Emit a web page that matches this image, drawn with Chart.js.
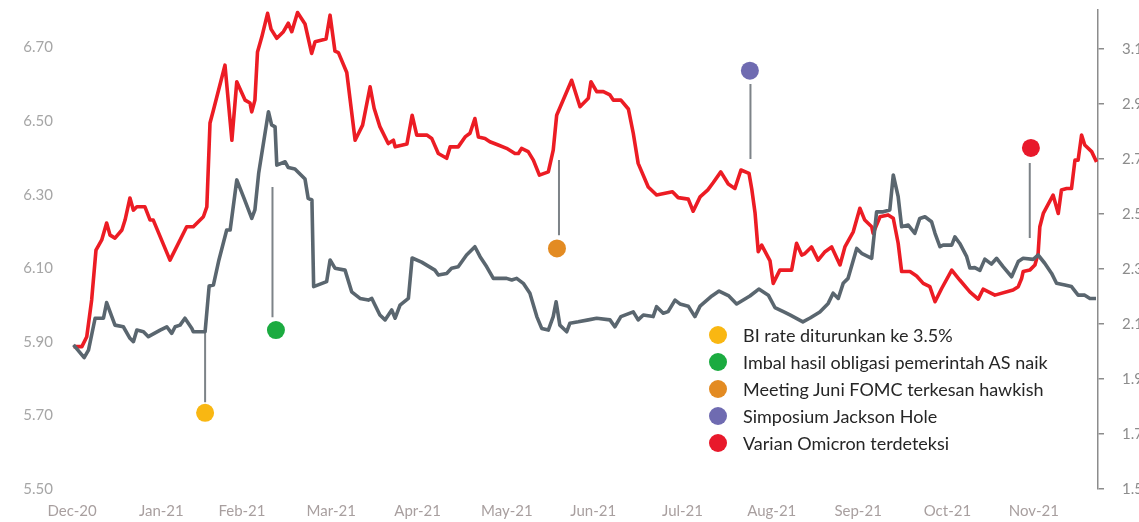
<!DOCTYPE html>
<html>
<head>
<meta charset="utf-8">
<title>Yield chart</title>
<script src="https://cdn.jsdelivr.net/npm/chart.js@4.4.1/dist/chart.umd.min.js"></script>
<style>
    html, body { margin: 0; padding: 0; background: #fff; overflow: hidden; }
    #wrap { position: relative; width: 1139px; height: 522px; }
    #legend {
        position: absolute; left: 709px; top: 321px;
        font-family: Lato, sans-serif; font-size: 18px; color: #262626;
    }
    #legend .row { height: 27px; display: flex; align-items: center; white-space: nowrap; }
    #legend .dot { width: 18px; height: 18px; border-radius: 50%; margin-right: 16px; flex: none; }
</style>
</head>
<body>
<div id="wrap">
    <canvas id="chart"></canvas>
    <div id="legend"></div>
</div>
<script>
// x values are days counted from the first point, month labels sit at month ends
const monthDays = [0, 31, 59, 90, 120, 151, 181, 212, 243, 273, 304, 334];
const monthLabels = ['Dec-20', 'Jan-21', 'Feb-21', 'Mar-21', 'Apr-21', 'May-21',
    'Jun-21', 'Jul-21', 'Aug-21', 'Sep-21', 'Oct-21', 'Nov-21'];
const leftTicks = [5.5, 5.7, 5.9, 6.1, 6.3, 6.5, 6.7];
const rightTicks = [1.5, 1.7, 1.9, 2.1, 2.3, 2.5, 2.7, 2.9, 3.1];

// red series (left axis)
const redDays = [0.5, 3.4, 5.1, 6.8, 8.3, 10.3, 12.0, 13.2, 14.9, 17.3,
    18.4, 20.1, 21.3, 22.5, 25.3, 27.1, 28.2, 34.0, 39.8, 42.1,
    45.6, 46.8, 47.9, 49.1, 53.1, 55.5, 57.2, 60.1, 61.8, 62.4,
    63.5, 64.4, 65.9, 67.9, 69.1, 71.1, 73.4, 75.1, 76.3, 78.3,
    80.9, 83.2, 84.4, 88.2, 89.6, 91.3, 92.5, 95.4, 98.3, 100.9,
    103.5, 104.9, 106.9, 109.8, 111.6, 112.2, 116.3, 118.1, 119.7, 123.2,
    124.9, 127.2, 130.1, 131.3, 134.1, 136.5, 138.2, 139.9, 141.1, 143.4,
    145.1, 148.0, 150.9, 153.8, 155.0, 156.1, 158.4, 160.2, 162.3, 165.4,
    167.1, 168.3, 173.5, 176.4, 179.3, 180.2, 182.2, 184.5, 186.8, 188.0,
    190.6, 193.2, 194.9, 196.6, 200.1, 203.0, 208.5, 210.5, 214.0, 215.7,
    218.1, 220.8, 222.7, 225.3, 227.9, 230.2, 232.3, 235.1, 236.1, 237.2,
    238.3, 239.5, 242.4, 243.5, 245.8, 249.9, 251.6, 253.4, 254.5, 256.8,
    259.1, 261.5, 263.8, 266.7, 268.4, 271.3, 273.6, 275.3, 277.7, 278.2,
    280.6, 283.4, 285.2, 286.9, 288.1, 291.0, 293.3, 295.6, 297.9, 299.7,
    302.0, 305.5, 308.3, 311.8, 314.7, 316.4, 320.5, 326.8, 328.6, 329.8,
    330.3, 332.6, 334.4, 335.5, 336.1, 337.3, 340.7, 342.5, 343.6, 345.4,
    347.1, 348.3, 349.4, 350.6, 351.7, 354.1, 355.8];
const redValues = [5.887, 5.887, 5.914, 6.014, 6.149, 6.177, 6.223, 6.190, 6.182, 6.204,
    6.231, 6.291, 6.258, 6.267, 6.267, 6.231, 6.231, 6.122, 6.213, 6.213,
    6.240, 6.267, 6.495, 6.530, 6.652, 6.448, 6.607, 6.557, 6.549, 6.525,
    6.557, 6.688, 6.729, 6.793, 6.750, 6.725, 6.743, 6.766, 6.743, 6.795,
    6.764, 6.684, 6.716, 6.723, 6.788, 6.690, 6.686, 6.632, 6.448, 6.489,
    6.593, 6.535, 6.485, 6.439, 6.448, 6.430, 6.438, 6.516, 6.462, 6.462,
    6.453, 6.412, 6.399, 6.430, 6.430, 6.457, 6.467, 6.507, 6.457, 6.453,
    6.444, 6.435, 6.426, 6.412, 6.412, 6.426, 6.417, 6.394, 6.353, 6.362,
    6.421, 6.516, 6.611, 6.539, 6.562, 6.607, 6.580, 6.580, 6.571, 6.557,
    6.557, 6.533, 6.467, 6.385, 6.321, 6.299, 6.308, 6.292, 6.288, 6.255,
    6.294, 6.313, 6.333, 6.362, 6.329, 6.317, 6.367, 6.358, 6.313, 6.250,
    6.145, 6.163, 6.120, 6.059, 6.095, 6.095, 6.168, 6.136, 6.140, 6.158,
    6.122, 6.145, 6.158, 6.109, 6.158, 6.199, 6.263, 6.231, 6.213, 6.195,
    6.240, 6.245, 6.236, 6.168, 6.091, 6.091, 6.079, 6.059, 6.050, 6.009,
    6.045, 6.095, 6.068, 6.036, 6.016, 6.043, 6.027, 6.041, 6.050, 6.073,
    6.091, 6.095, 6.109, 6.140, 6.213, 6.249, 6.299, 6.249, 6.313, 6.317,
    6.317, 6.394, 6.394, 6.462, 6.435, 6.417, 6.389];

// grey series (right axis)
const greyDays = [0.5, 4.2, 5.7, 8.0, 10.9, 12.0, 13.8, 14.9, 17.8, 20.1,
    21.3, 22.5, 24.8, 26.5, 30.6, 32.9, 34.6, 35.8, 37.5, 39.2,
    41.6, 42.1, 46.2, 47.6, 49.1, 51.0, 53.7, 54.9, 57.2, 59.7,
    62.4, 63.5, 64.8, 68.2, 69.3, 70.5, 71.1, 74.0, 75.1, 77.4,
    80.9, 82.0, 83.3, 83.9, 88.4, 89.6, 91.3, 94.8, 97.1, 100.0,
    102.9, 104.1, 105.2, 106.9, 108.7, 111.0, 112.2, 113.9, 116.8, 118.1,
    121.4, 126.0, 127.2, 130.1, 131.8, 134.1, 137.0, 139.9, 141.7, 144.0,
    146.3, 150.9, 152.7, 154.4, 156.7, 159.0, 161.4, 163.1, 165.4, 167.1,
    168.1, 169.4, 171.8, 172.9, 175.8, 179.3, 182.2, 186.8, 188.5, 190.6,
    194.9, 196.6, 198.4, 201.8, 203.0, 205.3, 207.0, 209.4, 211.1, 214.0,
    216.3, 218.1, 222.2, 224.7, 228.1, 230.8, 235.4, 238.5, 241.8, 244.1,
    247.2, 249.3, 253.8, 256.3, 259.7, 262.6, 264.3, 266.1, 267.8, 269.5,
    272.5, 274.2, 277.7, 279.4, 281.7, 284.0, 285.2, 286.9, 288.1, 290.4,
    292.7, 294.4, 296.2, 298.5, 299.7, 301.4, 302.5, 305.5, 306.6, 308.3,
    310.7, 311.8, 313.5, 315.3, 317.0, 319.3, 321.1, 323.4, 326.3, 328.6,
    330.3, 333.8, 335.5, 337.8, 340.2, 341.9, 344.8, 347.1, 349.4, 351.7,
    353.5, 355.6];
const greyValues = [2.024, 1.978, 2.005, 2.121, 2.121, 2.178, 2.127, 2.096, 2.090, 2.048,
    2.036, 2.078, 2.072, 2.054, 2.078, 2.090, 2.066, 2.090, 2.096, 2.121,
    2.084, 2.072, 2.072, 2.238, 2.242, 2.333, 2.442, 2.442, 2.624, 2.558,
    2.484, 2.515, 2.648, 2.872, 2.824, 2.817, 2.678, 2.690, 2.669, 2.664,
    2.627, 2.557, 2.551, 2.236, 2.254, 2.333, 2.303, 2.296, 2.217, 2.193,
    2.187, 2.193, 2.169, 2.133, 2.115, 2.151, 2.121, 2.169, 2.193, 2.340,
    2.325, 2.296, 2.278, 2.284, 2.303, 2.308, 2.351, 2.381, 2.345, 2.308,
    2.266, 2.266, 2.260, 2.266, 2.248, 2.212, 2.127, 2.084, 2.078, 2.127,
    2.181, 2.096, 2.072, 2.103, 2.108, 2.115, 2.121, 2.115, 2.090, 2.127,
    2.144, 2.115, 2.133, 2.127, 2.163, 2.139, 2.145, 2.187, 2.173, 2.165,
    2.127, 2.165, 2.202, 2.220, 2.202, 2.173, 2.202, 2.227, 2.205, 2.160,
    2.144, 2.133, 2.108, 2.122, 2.144, 2.175, 2.212, 2.193, 2.248, 2.266,
    2.375, 2.357, 2.339, 2.508, 2.508, 2.515, 2.642, 2.563, 2.454, 2.460,
    2.430, 2.484, 2.490, 2.472, 2.430, 2.381, 2.387, 2.387, 2.417, 2.393,
    2.345, 2.304, 2.305, 2.295, 2.336, 2.318, 2.339, 2.308, 2.272, 2.327,
    2.339, 2.335, 2.351, 2.321, 2.284, 2.248, 2.242, 2.236, 2.205, 2.205,
    2.193, 2.193];

// event markers, placed on the left axis
const eventNames = ['BI rate diturunkan ke 3.5%', 'Imbal hasil obligasi pemerintah AS naik',
    'Meeting Juni FOMC terkesan hawkish', 'Simposium Jackson Hole', 'Varian Omicron terdeteksi'];
const eventDotDays = [46.2, 70.8, 168.4, 235.4, 333.0];
const eventDotValues = [5.707, 5.932, 6.154, 6.637, 6.427];
const eventStemDays = [46.2, 69.6, 169.1, 235.6, 332.6];
const eventStemTop = [5.927, 6.321, 6.394, 6.601, 6.386];
const eventStemBottom = [5.736, 5.967, 6.190, 6.397, 6.182];

const colors = {
    red: '#ec1c24',
    grey: '#5a666f',
    stem: '#7d8388',
    axis: '#8c8c8c',
    leftText: '#a6a6a6',
    bottomText: '#a89f9f',
    events: ['#f9b712', '#1bab40', '#e38b22', '#6f6bb1', '#e8192b']
};

const toPoints = (xs, ys) => xs.map((x, i) => ({ x: x, y: ys[i] }));

// fixed box sizes so the plot area sits where the original one does
function fitY(width) {
    return (s) => {
        s.width = width;
        s.paddingTop = 10;
        s.paddingBottom = 0;
    };
}

document.addEventListener('DOMContentLoaded', () => {
    Chart.defaults.font.family = 'Lato, sans-serif';
    Chart.defaults.font.size = 15;

    const datasets = [
        {
            data: toPoints(greyDays, greyValues),
            yAxisID: 'yRight',
            borderColor: colors.grey,
            borderWidth: 3.6,
            pointRadius: 0,
            borderJoinStyle: 'round',
            tension: 0
        },
        {
            data: toPoints(redDays, redValues),
            yAxisID: 'y',
            borderColor: colors.red,
            borderWidth: 3.6,
            pointRadius: 0,
            borderJoinStyle: 'round',
            tension: 0
        }
    ];

    eventNames.forEach((name, i) => {
        datasets.push({
            data: [{ x: eventStemDays[i], y: eventStemTop[i] },
                   { x: eventStemDays[i], y: eventStemBottom[i] }],
            yAxisID: 'y',
            borderColor: colors.stem,
            borderWidth: 2,
            pointRadius: 0
        });
        datasets.push({
            type: 'scatter',
            label: name,
            data: [{ x: eventDotDays[i], y: eventDotValues[i] }],
            yAxisID: 'y',
            pointRadius: 9,
            pointBackgroundColor: colors.events[i],
            pointBorderWidth: 0
        });
    });

    new Chart(document.getElementById('chart'), {
        type: 'line',
        data: { datasets: datasets },
        options: {
            responsive: true,
            maintainAspectRatio: false,
            animation: false,
            events: [],
            layout: { padding: 0 },
            plugins: {
                legend: { display: false },
                tooltip: { enabled: false }
            },
            scales: {
                x: {
                    type: 'linear',
                    min: -3.5,
                    max: 356.3,
                    grid: { display: false, drawTicks: false },
                    border: { display: false },
                    afterBuildTicks: (s) => { s.ticks = monthDays.map(v => ({ value: v })); },
                    afterFit: (s) => { s.height = 33; },
                    ticks: {
                        autoSkip: false,
                        maxRotation: 0,
                        padding: 13,
                        color: colors.bottomText,
                        callback: (v, i) => monthLabels[i]
                    }
                },
                y: {
                    position: 'left',
                    min: 5.5,
                    max: 6.802,
                    grid: { display: false, drawTicks: false },
                    border: { display: false },
                    afterBuildTicks: (s) => { s.ticks = leftTicks.map(v => ({ value: v })); },
                    afterFit: fitY(62),
                    ticks: {
                        padding: 9,
                        color: colors.leftText,
                        callback: (v) => v.toFixed(2)
                    }
                },
                yRight: {
                    position: 'right',
                    min: 1.5,
                    max: 3.242,
                    grid: {
                        display: true,
                        drawOnChartArea: false,
                        drawTicks: true,
                        tickLength: 6,
                        color: colors.axis,
                        lineWidth: 1.5
                    },
                    border: { display: true, color: colors.axis, width: 1.5 },
                    afterBuildTicks: (s) => { s.ticks = rightTicks.map(v => ({ value: v })); },
                    afterFit: fitY(41),
                    ticks: {
                        padding: 18,
                        color: colors.axis,
                        callback: (v) => v.toFixed(2)
                    }
                }
            }
        }
    });

    // legend for the event markers
    const legend = document.getElementById('legend');
    eventNames.forEach((name, i) => {
        const row = document.createElement('div');
        row.className = 'row';
        const dot = document.createElement('span');
        dot.className = 'dot';
        dot.style.background = colors.events[i];
        row.appendChild(dot);
        row.appendChild(document.createTextNode(name));
        legend.appendChild(row);
    });
});
</script>
</body>
</html>
